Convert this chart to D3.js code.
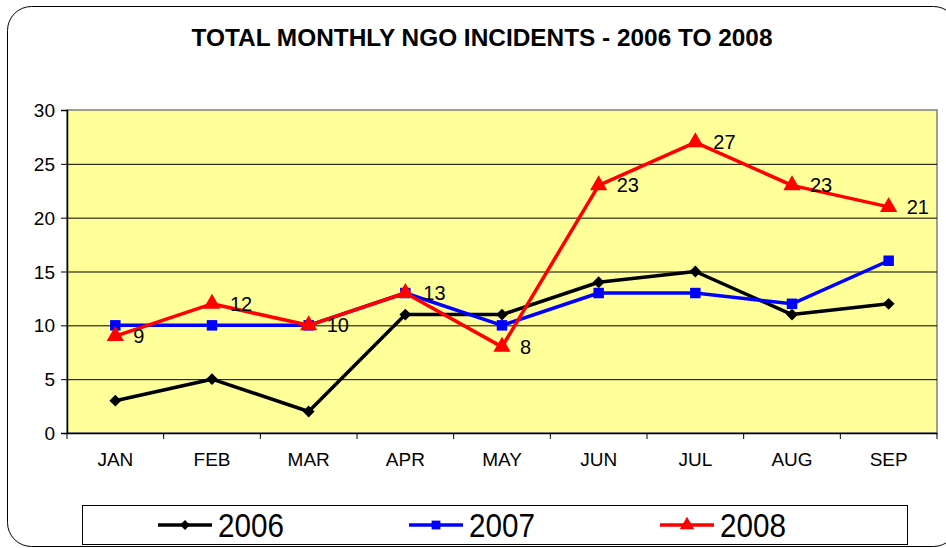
<!doctype html>
<html lang="en">
  <head>
    <meta charset="UTF-8" />
    <title>Total Monthly NGO Incidents</title>
    <script src="https://unpkg.com/d3@7.9.0/dist/d3.min.js"></script>
    <style>
      body {
        margin: 0;
        overflow: hidden;
        background: #fff;
        font-family: 'Liberation Sans', Arial, sans-serif;
      }
      .tick text {
        font-size: 19px;
        fill: #000;
      }
      .tick line {
        stroke: #000;
      }
      .grid line {
        stroke: #000;
        stroke-width: 1;
      }
      .grid path {
        display: none;
      }
    </style>
  </head>
  <body>
    <svg width="946" height="548"></svg>

    <script>
      const months = ['JAN', 'FEB', 'MAR', 'APR', 'MAY', 'JUN', 'JUL', 'AUG', 'SEP'];
      const years = ['2006', '2007', '2008'];
      const values2006 = [3, 5, 2, 11, 11, 14, 15, 11, 12];
      const values2007 = [10, 10, 10, 13, 10, 13, 13, 12, 16];
      const values2008 = [9, 12, 10, 13, 8, 23, 27, 23, 21];
      const yTicks = [0, 5, 10, 15, 20, 25, 30];

      const series = [
        { name: years[0], values: values2006, color: '#000000', symbol: d3.symbolSquare, size: 70, rotate: 45, labels: false },
        { name: years[1], values: values2007, color: '#0000FF', symbol: d3.symbolSquare, size: 110, rotate: 0, labels: false },
        { name: years[2], values: values2008, color: '#FF0000', symbol: d3.symbolTriangle, size: 130, rotate: 0, labels: true },
      ];

      const plot = { left: 67, top: 110, right: 937, bottom: 433 };

      const svg = d3.select('svg');

      // outer chart frame (runs past the right edge like the original)
      svg
        .append('rect')
        .attr('x', 7.5)
        .attr('y', 6.5)
        .attr('width', 950)
        .attr('height', 540)
        .attr('rx', 24)
        .attr('fill', '#fff')
        .attr('stroke', '#000')
        .attr('stroke-width', 1);

      svg
        .append('text')
        .attr('x', 482)
        .attr('y', 46)
        .attr('text-anchor', 'middle')
        .attr('textLength', 581)
        .attr('lengthAdjust', 'spacingAndGlyphs')
        .style('font-size', '23px')
        .style('font-weight', 'bold')
        .text('TOTAL MONTHLY NGO INCIDENTS - 2006 TO 2008');

      const x = d3
        .scaleBand()
        .domain(months)
        .range([plot.left, plot.right]);

      const y = d3
        .scaleLinear()
        .domain([0, 30])
        .range([plot.bottom, plot.top]);

      // yellow plot area
      svg
        .append('rect')
        .attr('x', plot.left)
        .attr('y', plot.top)
        .attr('width', plot.right - plot.left)
        .attr('height', plot.bottom - plot.top)
        .attr('fill', '#FFFF99')
        .attr('stroke', '#808080')
        .attr('stroke-width', 1.5);

      // horizontal grid lines
      svg
        .append('g')
        .attr('class', 'grid')
        .attr('transform', `translate(${plot.left},0)`)
        .call(
          d3
            .axisLeft(y)
            .tickValues(yTicks.slice(1, -1))
            .tickSize(-(plot.right - plot.left))
            .tickFormat(''),
        );

      // y axis
      const yAxis = svg
        .append('g')
        .attr('transform', `translate(${plot.left},0)`)
        .call(d3.axisLeft(y).tickValues(yTicks).tickSize(6).tickPadding(6));
      yAxis.select('.domain').attr('stroke', '#000').attr('stroke-width', 1.5);
      yAxis.selectAll('.tick text').attr('dy', '0.35em');

      // x axis: ticks on band edges
      const xAxis = svg
        .append('g')
        .attr('transform', `translate(0,${plot.bottom})`)
        .call(d3.axisBottom(x).tickSize(0).tickPadding(20));
      xAxis.select('.domain').attr('stroke', '#000').attr('stroke-width', 1.5);
      xAxis
        .selectAll('.edge')
        .data(d3.range(months.length + 1))
        .enter()
        .append('line')
        .attr('class', 'edge')
        .attr('x1', (i) => plot.left + i * x.step())
        .attr('x2', (i) => plot.left + i * x.step())
        .attr('y1', 0)
        .attr('y2', 6)
        .attr('stroke', '#000');

      const cx = (d, i) => x(months[i]) + x.bandwidth() / 2;

      const line = d3
        .line()
        .x((d, i) => cx(d, i))
        .y((d) => y(d));

      series.forEach((s) => {
        const g = svg.append('g');
        g.append('path')
          .datum(s.values)
          .attr('fill', 'none')
          .attr('stroke', s.color)
          .attr('stroke-width', 3.5)
          .attr('stroke-linejoin', 'round')
          .attr('d', line);

        g.selectAll('.marker')
          .data(s.values)
          .enter()
          .append('path')
          .attr('class', 'marker')
          .attr('transform', (d, i) => `translate(${cx(d, i)},${y(d)}) rotate(${s.rotate})`)
          .attr('d', d3.symbol().type(s.symbol).size(s.size))
          .attr('fill', s.color);

        if (s.labels) {
          g.selectAll('.label')
            .data(s.values)
            .enter()
            .append('text')
            .attr('class', 'label')
            .attr('x', (d, i) => cx(d, i) + 18)
            .attr('y', (d) => y(d))
            .attr('dy', '0.35em')
            .style('font-size', '20px')
            .text((d) => d);
        }
      });

      // legend
      const legend = svg.append('g');
      legend
        .append('rect')
        .attr('x', 82.5)
        .attr('y', 505.5)
        .attr('width', 825)
        .attr('height', 39)
        .attr('fill', '#fff')
        .attr('stroke', '#000')
        .attr('stroke-width', 1);

      const legendX = d3.scalePoint().domain(years).range([158, 660]);

      const item = legend
        .selectAll('.item')
        .data(series)
        .enter()
        .append('g')
        .attr('class', 'item')
        .attr('transform', (d) => `translate(${legendX(d.name)},525)`);

      item
        .append('line')
        .attr('x1', 0)
        .attr('x2', 54)
        .attr('stroke', (d) => d.color)
        .attr('stroke-width', 3.5);

      item
        .append('path')
        .attr('transform', (d) => `translate(27,0) rotate(${d.rotate})`)
        .attr('d', (d) => d3.symbol().type(d.symbol).size(d.size * 0.7)())
        .attr('fill', (d) => d.color);

      item
        .append('text')
        .attr('x', 60)
        .attr('y', 0)
        .attr('dy', '0.36em')
        .attr('textLength', 66)
        .attr('lengthAdjust', 'spacingAndGlyphs')
        .style('font-size', '34px')
        .text((d) => d.name);
    </script>
  </body>
</html>
